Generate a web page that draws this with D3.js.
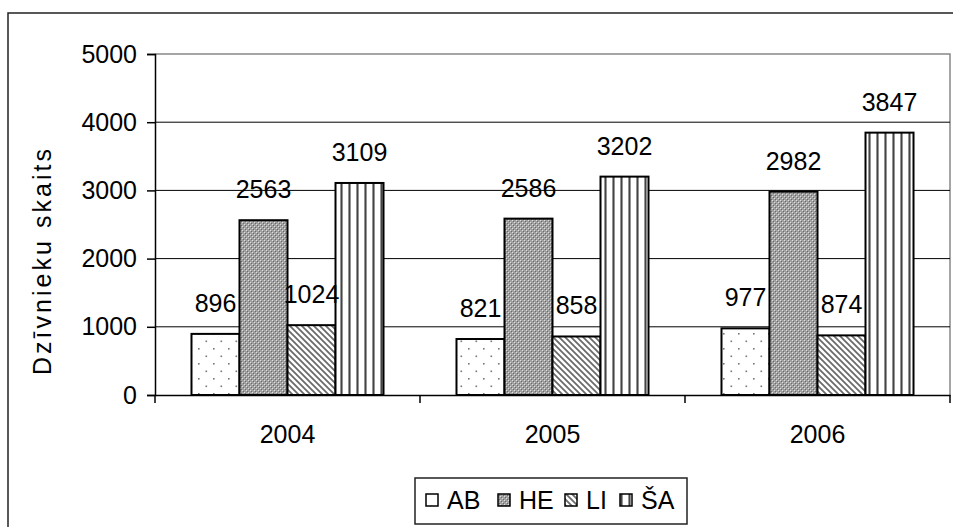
<!DOCTYPE html>
<html><head><meta charset="utf-8">
<script src="https://cdn.jsdelivr.net/npm/d3@7"></script>
<style>body{margin:0;background:#fff}svg{display:block;font-family:"Liberation Sans",Arial,sans-serif}</style>
</head><body>
<svg id="c" width="953" height="527"></svg>
<script>
const years = ["2004","2005","2006"];
const seriesNames = ["AB","HE","LI","ŠA"];
const AB = [896, 821, 977];
const HE = [2563, 2586, 2982];
const LI = [1024, 858, 874];
const SA = [3109, 3202, 3847];
const yTicks = [0,1000,2000,3000,4000,5000];
const yTitle = "Dzīvnieku skaits";

const seriesVals = [AB, HE, LI, SA];
const FS = 25;
const svg = d3.select("#c");
const defs = svg.append("defs");

// patterns
const pAB = defs.append("pattern").attr("id","pAB").attr("patternUnits","userSpaceOnUse").attr("width",15).attr("height",15);
pAB.append("rect").attr("width",15).attr("height",15).attr("fill","#fff");
pAB.append("rect").attr("x",3).attr("y",3).attr("width",1.6).attr("height",1.6).attr("fill","#777");
pAB.append("rect").attr("x",10.5).attr("y",10.5).attr("width",1.6).attr("height",1.6).attr("fill","#777");

const pHE = defs.append("pattern").attr("id","pHE").attr("patternUnits","userSpaceOnUse").attr("width",4).attr("height",4);
pHE.append("rect").attr("width",4).attr("height",4).attr("fill","#a0a0a0");
pHE.append("rect").attr("x",0).attr("y",0).attr("width",1).attr("height",1).attr("fill","#e0e0e0");
pHE.append("rect").attr("x",2).attr("y",2).attr("width",1).attr("height",1).attr("fill","#e0e0e0");
pHE.append("rect").attr("x",1).attr("y",1).attr("width",1).attr("height",1).attr("fill","#6a6a6a");
pHE.append("rect").attr("x",3).attr("y",3).attr("width",1).attr("height",1).attr("fill","#6a6a6a");

const pLI = defs.append("pattern").attr("id","pLI").attr("patternUnits","userSpaceOnUse").attr("width",6).attr("height",6);
pLI.append("rect").attr("width",6).attr("height",6).attr("fill","#fff");
pLI.append("path").attr("d","M-3,3 L3,9 M0,0 L6,6 M3,-3 L9,3").attr("stroke","#6a6a6a").attr("stroke-width",1.8);

const pSA = defs.append("pattern").attr("id","pSA").attr("patternUnits","userSpaceOnUse").attr("width",8).attr("height",8).attr("x",1);
pSA.append("rect").attr("width",8).attr("height",8).attr("fill","#fff");
pSA.append("rect").attr("x",3).attr("y",0).attr("width",3).attr("height",8).attr("fill","#aaa");
pSA.append("rect").attr("x",3.8).attr("y",0).attr("width",1.4).attr("height",8).attr("fill","#444");

const fills = ["url(#pAB)","url(#pHE)","url(#pLI)","url(#pSA)"];

// outer frame
svg.append("rect").attr("x",8).attr("y",13).attr("width",960).attr("height",540).attr("fill","none").attr("stroke","#222").attr("stroke-width",1.5);

const L=155, R=950, T=54, B=395;
const y = d3.scaleLinear().domain([0,5000]).range([B,T]);
const x0 = d3.scaleBand().domain(years).range([L,R]).padding(0);
const bw = x0.bandwidth();
const x1 = d3.scaleBand().domain(seriesNames).range([bw*0.1377, bw*(1-0.1377)]).padding(0);

// plot border (top/right grey)
svg.append("path").attr("d",`M${L},${T}H${R}V${B}`).attr("fill","none").attr("stroke","#888").attr("stroke-width",1.5);

// gridlines
svg.append("g").selectAll("line").data(yTicks.filter(t=>t>0 && t<5000)).join("line")
  .attr("x1",L).attr("x2",R).attr("y1",d=>y(d)).attr("y2",d=>y(d)).attr("stroke","#000").attr("stroke-width",1);

// bars
const data = [];
years.forEach((yr,i)=>seriesNames.forEach((s,j)=>data.push({yr,s,j,v:seriesVals[j][i]})));
const g = svg.append("g");
g.selectAll("rect").data(data).join("rect")
  .attr("x",d=>x0(d.yr)+x1(d.s)).attr("width",x1.bandwidth())
  .attr("y",d=>y(d.v)).attr("height",d=>B-y(d.v))
  .attr("fill",d=>fills[d.j]).attr("stroke","#000").attr("stroke-width",2);

// value labels
svg.append("g").selectAll("text").data(data).join("text")
  .attr("x",d=>x0(d.yr)+x1(d.s)+x1.bandwidth()/2).attr("y",d=>y(d.v)-22)
  .attr("text-anchor","middle").attr("font-size",FS).attr("fill","#000").text(d=>d.v);

// y axis
const yAxis = d3.axisLeft(y).tickValues(yTicks).tickSize(8).tickPadding(10).tickFormat(d3.format("d"));
const ya = svg.append("g").attr("transform",`translate(${L},0)`).call(yAxis);
ya.select(".domain").attr("stroke","#000").attr("stroke-width",1.5);
ya.selectAll(".tick line").attr("stroke","#000").attr("stroke-width",1.5);
ya.selectAll(".tick text").attr("font-size",FS).attr("font-family","Liberation Sans, Arial, sans-serif").attr("fill","#000");

// x axis
const xa = svg.append("g").attr("transform",`translate(0,${B})`).call(d3.axisBottom(x0).tickSize(0).tickPadding(30));
xa.select(".domain").attr("stroke","#000").attr("stroke-width",1.5);
xa.selectAll(".tick text").attr("font-size",FS).attr("font-family","Liberation Sans, Arial, sans-serif").attr("fill","#000");
svg.append("g").selectAll("line").data([...years.map(d=>x0(d)), R]).join("line")
  .attr("x1",d=>d).attr("x2",d=>d).attr("y1",B).attr("y2",B+8).attr("stroke","#000").attr("stroke-width",1.5);

// y title
svg.append("text").attr("transform","translate(51,262) rotate(-90)").attr("text-anchor","middle")
  .attr("font-size",FS).attr("textLength",226).attr("lengthAdjust","spacing").text(yTitle);

// legend
const lg = svg.append("g");
lg.append("rect").attr("x",415).attr("y",478).attr("width",272).attr("height",46).attr("fill","#fff").attr("stroke","#222").attr("stroke-width",1.5);
const legX = [426, 498, 565, 620];
seriesNames.forEach((s,j)=>{
  lg.append("rect").attr("x",legX[j]).attr("y",494).attr("width",12).attr("height",12).attr("fill",fills[j]).attr("stroke","#000").attr("stroke-width",1.5);
  lg.append("text").attr("x",legX[j]+21).attr("y",509).attr("font-size",FS).text(s);
});
</script>
</body></html>
